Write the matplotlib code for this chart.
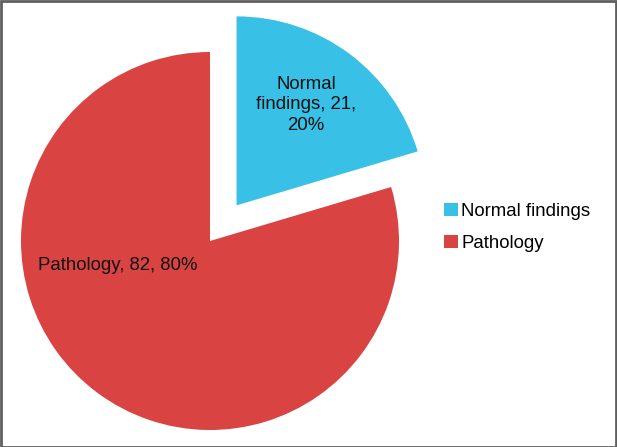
import numpy as np
import matplotlib
matplotlib.use("Agg")
import matplotlib.pyplot as plt
from matplotlib.patches import Rectangle

plt.rcParams['font.family'] = ['Liberation Sans', 'DejaVu Sans']

# dados
categorias = ['Normal findings', 'Pathology']
valores = [21, 82]
percent = ['20%', '80%']
cores = ['#38C0E6', '#D94442']
explode = [0.235, 0.0]

fig = plt.figure(figsize=(6.17, 4.47), dpi=100)
ax = fig.add_axes([0, 0, 1, 1])

wedges, _ = ax.pie(valores, colors=cores, explode=explode, startangle=90,
                   counterclock=False, radius=1.0,
                   wedgeprops=dict(linewidth=0))

# limites para que o centro fique em (210, 241) px com raio ~189 px
r_px = 189.0
cx, cy = 210.0, 447 - 241.0
ax.set_xlim(-cx / r_px, (617 - cx) / r_px)
ax.set_ylim(-cy / r_px, (447 - cy) / r_px)
ax.set_aspect('auto')
ax.axis('off')

# rótulos das fatias
rotulos = ['Normal\nfindings, 21,\n20%', 'Pathology, 82, 80%']
pos_rot = [(0.508, 0.72), (-0.489, -0.127)]
for txt, (x, y) in zip(rotulos, pos_rot):
    ax.text(x, y, txt, ha='center', va='center', fontsize=13.4,
            color='#111111', linespacing=1.3)

# legenda
leg = fig.legend(wedges, categorias, loc='center left',
                 bbox_to_anchor=(0.693, 0.492), frameon=False,
                 fontsize=13.4, handlelength=0.75, handleheight=0.7,
                 handletextpad=0.15, labelspacing=0.8)

# moldura
fig.patches.append(Rectangle((0.001, 0.001), 0.997, 0.996, transform=fig.transFigure,
                             fill=False, edgecolor='#5f5f5f', linewidth=2))

fig.savefig('out.png', dpi=100)
